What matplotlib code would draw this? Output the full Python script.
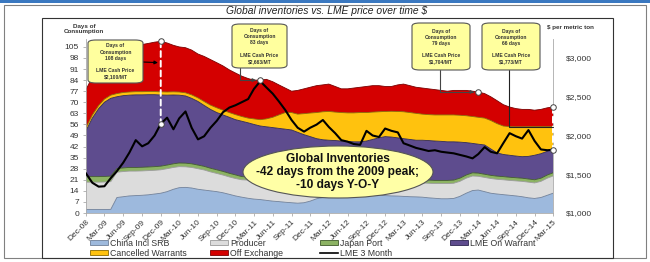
import numpy as np
import pandas as pd
import matplotlib
matplotlib.use("Agg")
import matplotlib.pyplot as plt
import matplotlib.dates as mdates
from matplotlib.patches import Rectangle, FancyBboxPatch, Ellipse, Patch, ConnectionPatch
from matplotlib.lines import Line2D

plt.rcParams["font.family"] = ["Liberation Sans", "DejaVu Sans"]

W, H = 650, 262

# monthly, Dec-08 .. Mar-15
months = pd.date_range("2008-12-01", periods=76, freq="MS")

# stack levels (days of consumption, cumulative from the bottom)
china_top = [2.2, 2.2, 2.2, 2.2, 2.3, 9.8, 10.3, 10.8, 11.0, 11.2, 11.5, 12.0,
             12.5, 13.5, 15.0, 16.0, 16.2, 15.8, 15.0, 14.5, 14.0, 13.5, 12.8, 11.8,
             10.8, 10.0, 9.3, 8.8, 8.5, 8.0, 7.5, 7.2, 6.8, 6.5, 6.2, 6.5,
             7.5, 9.0, 9.8, 10.2, 10.5, 11.0, 11.3, 11.5, 11.3, 11.4, 11.5, 11.2,
             11.0, 10.8, 10.7, 10.5, 10.3, 10.2, 10.0, 9.6, 9.3, 9.0, 9.0, 9.2,
             10.5, 12.5, 14.2, 14.5, 13.5, 12.5, 12.0, 11.6, 11.2, 10.8, 10.3, 9.6,
             9.2, 9.8, 11.2, 12.5]
producer_top = [19.5, 19.5, 19.5, 19.6, 19.8, 25.8, 26.2, 26.5, 26.5, 26.6, 26.8, 27.0,
                27.3, 28.0, 28.8, 29.3, 29.2, 28.8, 28.0, 27.2, 26.0, 25.0, 24.0, 22.8,
                21.8, 21.0, 20.8, 20.6, 20.5, 20.5, 20.4, 20.2, 20.0, 19.8, 19.6, 19.6,
                19.8, 20.3, 20.8, 21.0, 21.0, 21.0, 21.0, 21.0, 20.8, 20.8, 20.7, 20.5,
                20.3, 20.0, 19.8, 19.5, 19.3, 19.2, 19.0, 18.8, 18.6, 18.6, 18.6, 18.8,
                20.0, 22.0, 23.4, 23.2, 22.5, 21.8, 21.3, 21.0, 20.6, 20.3, 20.0, 19.5,
                19.0, 20.0, 22.0, 23.4]
japan_top = [23.0, 23.0, 23.0, 23.1, 23.3, 28.1, 28.5, 28.8, 28.8, 28.9, 29.1, 29.3,
             29.6, 30.3, 31.1, 31.6, 31.5, 31.1, 30.3, 29.5, 28.3, 27.3, 26.3, 25.1,
             24.1, 23.0, 22.8, 22.6, 22.5, 22.5, 22.4, 22.2, 22.0, 21.8, 21.6, 21.6,
             21.8, 22.3, 22.8, 23.0, 23.0, 23.0, 23.0, 23.0, 22.8, 22.8, 22.7, 22.5,
             22.3, 22.0, 21.8, 21.5, 21.3, 21.2, 21.0, 20.8, 20.6, 20.6, 20.6, 20.8,
             22.0, 24.0, 25.4, 25.2, 24.5, 23.8, 23.3, 23.0, 22.6, 22.3, 22.0, 21.5,
             21.0, 22.0, 24.0, 25.4]
warrant_top = [52.0, 60.0, 66.0, 70.0, 72.5, 73.5, 74.2, 74.5, 74.7, 74.7, 74.8, 74.8,
               74.6, 74.5, 74.6, 74.5, 74.0, 72.5, 70.5, 68.0, 65.5, 63.5, 62.0, 60.5,
               59.0, 58.0, 57.0, 56.0, 55.0, 54.5, 54.0, 53.5, 53.0, 52.5, 51.0, 49.5,
               48.3, 47.0, 46.3, 46.0, 45.8, 45.5, 45.3, 45.0, 45.0, 45.5, 46.5, 47.5,
               48.3, 48.0, 47.5, 47.0, 46.5, 46.0, 46.0, 45.8, 45.5, 45.3, 45.0, 45.0,
               44.8, 44.5, 44.0, 43.5, 43.0, 40.5, 38.0, 37.0, 36.5, 36.0, 35.6, 35.8,
               36.5, 37.5, 39.0, 41.0]
cancelled_top = [54.0, 62.0, 68.0, 72.0, 74.5, 75.5, 76.2, 76.5, 76.7, 76.7, 76.8, 76.8,
                 76.6, 76.5, 76.6, 76.5, 76.0, 74.7, 72.8, 70.5, 68.2, 66.5, 65.0, 63.5,
                 62.2, 61.0, 60.0, 59.5, 59.0, 59.5, 60.5, 62.0, 63.5, 63.5, 62.5, 62.8,
                 63.2, 63.5, 64.0, 64.2, 63.8, 63.5, 63.3, 63.3, 63.5, 63.5, 63.8, 64.0,
                 64.2, 64.3, 64.2, 64.0, 63.5, 63.0, 62.5, 62.2, 62.0, 62.0, 62.0, 62.0,
                 61.8, 61.5, 61.0, 60.5, 60.0, 58.5, 56.5, 55.0, 54.6, 54.5, 54.5, 54.6,
                 54.6, 54.6, 54.6, 54.6]
offex_top = [78.0, 86.0, 92.5, 96.5, 100.0, 101.5, 102.5, 103.5, 105.0, 106.5, 107.2, 108.0,
             108.5, 107.5, 106.0, 105.0, 104.5, 103.0, 100.5, 99.0, 97.0, 95.0, 93.0, 90.5,
             88.5, 86.5, 85.0, 84.0, 84.0, 84.5, 83.0, 81.0, 79.0, 77.0, 77.5, 78.5,
             79.5, 80.5, 81.0, 81.5, 80.0, 78.5, 78.5, 79.0, 79.5, 80.0, 80.5, 80.5,
             80.0, 80.0, 81.0, 81.5, 80.5, 79.5, 79.0, 78.5, 78.0, 77.5, 77.0, 77.5,
             77.5, 77.5, 77.0, 76.5, 75.5, 73.5, 71.0, 68.5, 67.0, 66.0, 65.5, 65.5,
             65.0, 65.5, 66.5, 67.0]

# LME 3 month price, $ per metric ton
lme_3m = [1510, 1390, 1340, 1345, 1450, 1540, 1650, 1780, 1940, 1860, 1900, 2000,
          2150, 2230, 2080, 2220, 2310, 2100, 1950, 1990, 2100, 2190, 2300, 2360,
          2390, 2430, 2470, 2600, 2700, 2620, 2540, 2440, 2330, 2200, 2100, 2050,
          2100, 2140, 2200, 2110, 2030, 1940, 1920, 1890, 1880, 2060, 2000, 1980,
          2090, 2060, 2040, 1900, 1870, 1840, 1820, 1800, 1810, 1790, 1780, 1770,
          1750, 1730, 1705, 1760, 1850, 1790, 1770, 1900, 2030, 1990, 1960, 2070,
          1930, 1820, 1810, 1815]

labels = ["China Incl SRB", "Producer", "Japan Port", "LME On Warrant",
          "Cancelled Warrants", "Off Exchange"]
fills = ["#9db9dd", "#dcdcdc", "#8cb363", "#5e4c8e", "#ffc20e", "#d40000"]
edges = ["#6e7f99", "#9a9a9a", "#3f5a2a", "#2d2550", "#8a6a00", "#7a0000"]

levels = np.array([china_top, producer_top, japan_top, warrant_top,
                   cancelled_top, offex_top])
layers = np.diff(np.vstack([np.zeros(len(months)), levels]), axis=0)


def fx(px):
    return px / W


def fy(py):
    return 1 - py / H


fig = plt.figure(figsize=(W / 100, H / 100), dpi=100)
fig.patch.set_facecolor("white")

ax = fig.add_axes([fx(86), fy(213), (553 - 86) / W, (213 - 39) / H])
ax.stackplot(months, *layers, colors=fills, linewidth=0)
for lev, ec in zip(levels, edges):
    ax.plot(months, lev, color=ec, lw=0.6)
ax.set_xlim(months[0], months[-1])
ax.set_ylim(0, 110)
ax.set_yticks(np.arange(0, 106, 7))
ax.tick_params(axis="y", labelsize=6, length=2, width=0.5, colors="#999999", labelcolor="#333333", pad=3)
ax.set_xticks(months[::3])
ax.set_xticklabels([d.strftime("%b-%y") for d in months[::3]], rotation=45,
                   ha="right", rotation_mode="anchor")
ax.tick_params(axis="x", labelsize=6, length=2, width=0.5, colors="#999999", labelcolor="#333333", pad=2)
for s in ["top", "right"]:
    ax.spines[s].set_visible(False)
for s in ["left", "bottom"]:
    ax.spines[s].set_color("#aaaaaa")
    ax.spines[s].set_linewidth(0.6)

ax2 = ax.twinx()
ax2.plot(months, lme_3m, color="black", lw=1.5)
ax2.set_ylim(1000, 1000 + 110 * 2000 / 98)
ax2.set_yticks([1000, 1500, 2000, 2500, 3000])
ax2.set_yticklabels(["$1,000", "$1,500", "$2,000", "$2,500", "$3,000"])
ax2.tick_params(axis="y", labelsize=6, length=0, labelcolor="#333333", pad=9)
for s in ["top", "left", "bottom"]:
    ax2.spines[s].set_visible(False)
ax2.spines["right"].set_color("#aaaaaa")
ax2.spines["right"].set_linewidth(0.6)

fig.text(fx(84), fy(29), "Days of\nConsumption", ha="center", va="center",
         fontsize=4.5, fontweight="bold", color="#333333", linespacing=1.2)
fig.text(fx(570), fy(28), "$ per metric ton", ha="center", va="center",
         fontsize=4.5, fontweight="bold", color="#333333")
fig.text(fx(327), fy(11), "Global inventories vs. LME price over time $",
         ha="center", va="center", fontsize=7.4, style="italic", color="#222222")

# frames and top bar
fig.add_artist(Rectangle((0, fy(3)), 1, 3 / H, transform=fig.transFigure,
                         facecolor="#3a78c0", edgecolor="none"))
fig.add_artist(Rectangle((fx(3.5), fy(257.5)), (646 - 3.5) / W, (257.5 - 5) / H,
                         transform=fig.transFigure, fill=False, edgecolor="#808080", lw=0.8))
fig.add_artist(Rectangle((fx(42), fy(257.5)), (613 - 42) / W, (257.5 - 18) / H,
                         transform=fig.transFigure, fill=False, edgecolor="#333333", lw=0.8))

# dashed guides between inventory peak and price
x0 = mdates.date2num(months[12])
x1 = mdates.date2num(months[-1])
for xi, i in [(x0, 12), (x1, -1)]:
    fig.add_artist(ConnectionPatch(xyA=(xi, offex_top[i]), coordsA=ax.transData,
                                   xyB=(xi, lme_3m[i]), coordsB=ax2.transData,
                                   color="white", ls=(0, (3, 2)), lw=1.4, zorder=3))


def ring(x, y, trans):
    fig.add_artist(Line2D([x], [y], transform=trans, marker="o", ms=4,
                          mfc="white", mec="#444444", mew=0.7, ls="none", zorder=4))


ring(x0, offex_top[12], ax.transData)
ring(x0, lme_3m[12], ax2.transData)
ring(mdates.date2num(months[28]), offex_top[28], ax.transData)
ring(mdates.date2num(months[63]), offex_top[63], ax.transData)
ring(x1, offex_top[-1], ax.transData)
ring(x1, lme_3m[-1], ax2.transData)

# callout boxes
callouts = [
    ((88, 40, 143, 83), "108 days", "$2,100/MT"),
    ((232, 24, 287, 68), "83 days", "$2,663/MT"),
    ((412, 23, 470, 70), "79 days", "$1,704/MT"),
    ((482, 23, 540, 70), "66 days", "$1,773/MT"),
]
for (l, t, r, b), days, price in callouts:
    fig.add_artist(FancyBboxPatch((fx(l), fy(b)), (r - l) / W, (b - t) / H,
                                  boxstyle="round,pad=0,rounding_size=0.012",
                                  transform=fig.transFigure, facecolor="#ffff9e",
                                  edgecolor="#555555", lw=0.8, zorder=5))
    fig.text(fx((l + r) / 2), fy((t + b) / 2),
             f"Days of\nConsumption\n{days}\n\nLME Cash Price\n{price}",
             ha="center", va="center", fontsize=3.6, fontweight="bold",
             color="#333333", linespacing=1.3, zorder=6)

# connectors from the boxes
fig.add_artist(ConnectionPatch(xyA=(fx(143), fy(62)), coordsA="figure fraction",
                               xyB=(x0, 95), coordsB=ax.transData,
                               arrowstyle="-|>", mutation_scale=5, color="black",
                               lw=0.8, shrinkB=2, zorder=4))
fig.add_artist(ConnectionPatch(xyA=(fx(240), fy(68)), coordsA="figure fraction",
                               xyB=(mdates.date2num(months[28]), offex_top[28]), coordsB=ax.transData,
                               arrowstyle="-|>", mutation_scale=5, color="#444444",
                               connectionstyle="angle,angleA=90,angleB=0,rad=0",
                               lw=0.8, shrinkB=3, zorder=4))
fig.add_artist(ConnectionPatch(xyA=(fx(440), fy(70)), coordsA="figure fraction",
                               xyB=(mdates.date2num(months[63]), offex_top[63]), coordsB=ax.transData,
                               arrowstyle="-|>", mutation_scale=5, color="#444444",
                               connectionstyle="angle,angleA=90,angleB=0,rad=0",
                               lw=0.8, shrinkB=3, zorder=4))
fig.add_artist(ConnectionPatch(xyA=(fx(509), fy(70)), coordsA="figure fraction",
                               xyB=(x1, cancelled_top[-1]), coordsB=ax.transData,
                               arrowstyle="-", color="#222222",
                               connectionstyle="angle,angleA=90,angleB=0,rad=0",
                               lw=0.8, zorder=4))

# summary ellipse
fig.add_artist(Ellipse((fx(338), fy(172)), 190 / W, 52 / H, transform=fig.transFigure,
                       facecolor="#ffffa6", edgecolor="#555555", lw=0.8, zorder=5))
fig.text(fx(338), fy(172), "Global Inventories\n-42 days from the 2009 peak;\n-10 days Y-O-Y",
         ha="center", va="center", fontsize=8.6, fontweight="bold", color="#111111",
         linespacing=1.1, zorder=6)

# legend, column by column
patch = {lab: Patch(facecolor=fc, edgecolor=ec, lw=0.6)
         for lab, fc, ec in zip(labels, fills, edges)}
price_handle = Line2D([], [], color="black", lw=1.2)
columns = [
    (90, ["China Incl SRB", "Cancelled Warrants"]),
    (210, ["Producer", "Off Exchange"]),
    (320, ["Japan Port", "LME 3 Month"]),
    (450, ["LME On Warrant"]),
]
for xpos, labs in columns:
    hs = [price_handle if lab == "LME 3 Month" else patch[lab] for lab in labs]
    fig.legend(hs, labs, loc="upper left", bbox_to_anchor=(fx(xpos), fy(239)),
               frameon=False, fontsize=6.3, borderpad=0, borderaxespad=0,
               handlelength=2.0, handleheight=0.5, handletextpad=0.3,
               labelspacing=0.1, labelcolor="#333333")

fig.savefig("out.png", dpi=100)
